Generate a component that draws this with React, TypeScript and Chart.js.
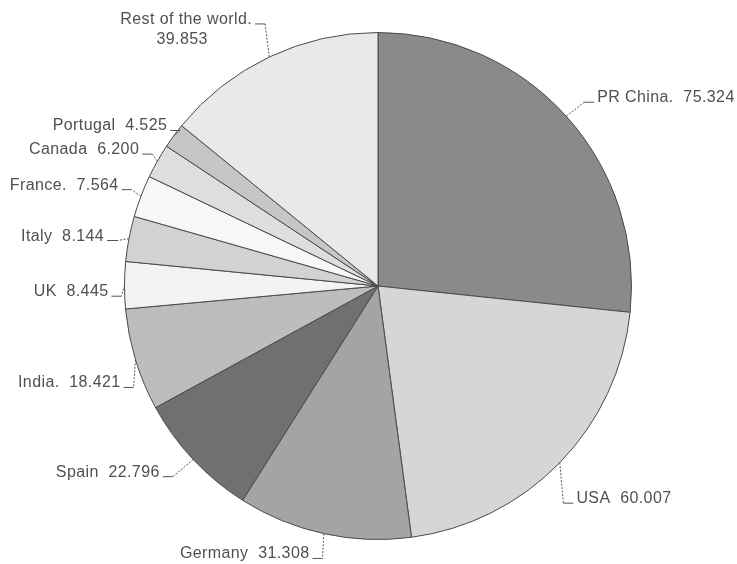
import React, { useEffect, useRef } from "react";
import { Chart, registerables } from "chart.js";

Chart.register(...registerables);

const categories = ["PR China", "USA", "Germany", "Spain", "India", "UK", "Italy", "France", "Canada", "Portugal", "Rest of the world"];
const values = [75.324, 60.007, 31.308, 22.796, 18.421, 8.445, 8.144, 7.564, 6.2, 4.525, 39.853];
const separators = [".  ", "  ", "  ", "  ", ".  ", "  ", "  ", ".  ", "  ", "  ", ". "];
const sliceColors = ["#8a8a8a", "#d6d6d6", "#a4a4a4", "#707070", "#bdbdbd", "#f3f3f3", "#d2d2d2", "#f7f7f7", "#dedede", "#c6c6c6", "#e9e9e9"];
// leader layout: radial extension beyond the rim, then vertical drop
const leaderLengths = [24, 5, 6, 28, 2, 3, 12, 10, 6, -8, 10];
const leaderDrops = [2, 37, 19, -2, 27, 11, 4, -3, -4, -10, -24];

const labelPlugin = {
  id: "sliceLabels",
  afterDatasetsDraw(chart: any) {
    const ctx = chart.ctx;
    const meta = chart.getDatasetMeta(0);
    ctx.save();
    ctx.font = "16px 'Liberation Sans', Arial, sans-serif";
    (ctx as any).letterSpacing = "0.4px";
    ctx.fillStyle = "#505050";
    ctx.strokeStyle = "#555";
    ctx.lineWidth = 1;
    meta.data.forEach((arc: any, i: number) => {
      const p = arc.getProps(["x", "y", "startAngle", "endAngle", "outerRadius"], true);
      const m = (p.startAngle + p.endAngle) / 2;
      const c = Math.cos(m), s = Math.sin(m);
      const x0 = p.x + p.outerRadius * c, y0 = p.y + p.outerRadius * s;
      const L = leaderLengths[i];
      const x1 = p.x + (p.outerRadius + L) * c;
      const y1 = p.y + (p.outerRadius + L) * s + leaderDrops[i];
      const right = c >= 0;
      const stub = 10;
      const x2 = right ? x1 + stub : x1 - stub;
      ctx.setLineDash([2, 1.5]);
      ctx.beginPath();
      ctx.moveTo(x0, y0);
      ctx.lineTo(x1, y1);
      ctx.stroke();
      ctx.setLineDash([]);
      ctx.beginPath();
      ctx.moveTo(x1, y1);
      ctx.lineTo(x2, y1);
      ctx.stroke();
      const valueText = values[i].toFixed(3);
      ctx.textBaseline = "alphabetic";
      if (categories[i].length > 12) {
        const line1 = categories[i] + separators[i].trim();
        ctx.textAlign = "right";
        const tx = x2 - 3;
        ctx.fillText(line1, tx, y1);
        const w = ctx.measureText(line1).width;
        ctx.textAlign = "center";
        ctx.fillText(valueText, tx - w / 2 - 4, y1 + 20);
      } else {
        const text = categories[i] + separators[i] + valueText;
        ctx.textAlign = right ? "left" : "right";
        ctx.fillText(text, right ? x2 + 3 : x2 - 3, y1);
      }
    });
    ctx.restore();
  },
};

export default function App() {
  const ref = useRef<HTMLCanvasElement | null>(null);
  useEffect(() => {
    document.body.style.margin = "0";
    const chart = new Chart(ref.current as HTMLCanvasElement, {
      type: "pie",
      data: {
        labels: categories,
        datasets: [
          {
            data: values,
            backgroundColor: sliceColors,
            borderColor: "#4a4a4a",
            borderWidth: 1,
          },
        ],
      },
      options: {
        animation: false,
        responsive: false,
        layout: { padding: { left: 124, right: 105, top: 32, bottom: 24 } },
        plugins: {
          legend: { display: false },
          tooltip: { enabled: false },
        },
      },
      plugins: [labelPlugin],
    });
    return () => chart.destroy();
  }, []);
  return (
    <div style={{ position: "fixed", left: 0, top: 0, width: 737, height: 564, background: "#fff" }}>
      <canvas ref={ref} width={737} height={564} style={{ width: 737, height: 564 }} />
    </div>
  );
}
